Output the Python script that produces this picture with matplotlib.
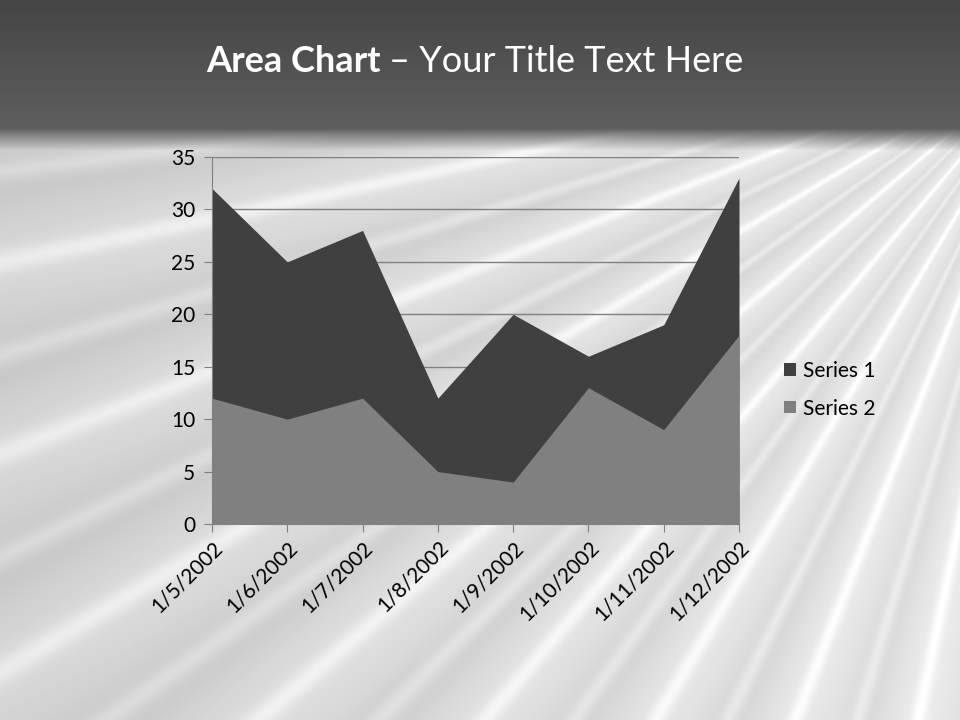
import numpy as np
import matplotlib.pyplot as plt

dates = ["1/5/2002", "1/6/2002", "1/7/2002", "1/8/2002",
         "1/9/2002", "1/10/2002", "1/11/2002", "1/12/2002"]
series1 = [32, 25, 28, 12, 20, 16, 19, 33]
series2 = [12, 10, 12, 5, 4, 13, 9, 18]

plt.rcParams['font.family'] = ['Lato', 'DejaVu Sans']

fig = plt.figure(figsize=(9.6, 7.2), dpi=100)

# fond : bandeau sombre + sol clair strié
bg = fig.add_axes([0, 0, 1, 1])
bg.set_xlim(0, 960)
bg.set_ylim(720, 0)
bg.axis('off')
yy, xx = np.mgrid[0:720, 0:960]
ang = np.arctan2(yy - 40.0, 1060.0 - xx)
streak = np.abs(np.sin(ang * 38.0)) ** 12
shade = np.abs(np.sin(ang * 19.0 + 0.7))
base = 0.76 + 0.08 * (xx / 960.0) + 0.08 * shade + 0.08 * streak
base = np.clip(base, 0, 1)
top = 0.27 + 0.10 * (yy / 128.0)
img = np.where(yy < 128, top, base)
fade = (yy >= 128) & (yy < 150)
img = np.where(fade, top * (150 - yy) / 22.0 + base * (yy - 128) / 22.0, img)
bg.imshow(img, cmap='gray', vmin=0, vmax=1, extent=(0, 960, 720, 0), aspect='auto')

fig.text(381 / 960, 1 - 62 / 720, "Area Chart", color='white', fontsize=26,
         fontweight='bold', ha='right', va='center')
fig.text(389 / 960, 1 - 62 / 720, "\u2013 Your Title Text Here", color='white',
         fontsize=26, ha='left', va='center')

ax = fig.add_axes([212 / 960, 1 - 524 / 720, 527 / 960, 367 / 720])
ax.patch.set_alpha(0)
x = np.arange(len(dates))
ax.fill_between(x, series1, color='#404040', lw=0, label='Series 1', zorder=2)
ax.fill_between(x, series2, color='#808080', lw=0, label='Series 2', zorder=3)
ax.set_xlim(0, len(dates) - 1)
ax.set_ylim(0, 35)
ax.set_yticks(range(0, 36, 5))
ax.yaxis.grid(True, color='#808080', lw=1, zorder=1)
ax.set_axisbelow(True)
ax.set_xticks(x)
ax.set_xticklabels(dates, rotation=45, ha='right', rotation_mode='anchor')
for s in ['top', 'right']:
    ax.spines[s].set_visible(False)
for s in ['left', 'bottom']:
    ax.spines[s].set_color('#808080')
    ax.spines[s].set_zorder(4)
ax.tick_params(axis='both', colors='#808080', labelcolor='black', labelsize=15,
               length=6)
ax.tick_params(axis='y', pad=6)

ax.legend(loc='center left', bbox_to_anchor=(1.05, 0.366), frameon=False,
          fontsize=15, handlelength=0.55, handleheight=0.55, handletextpad=0.35,
          labelspacing=0.85)

fig.savefig('out.png', dpi=100)
